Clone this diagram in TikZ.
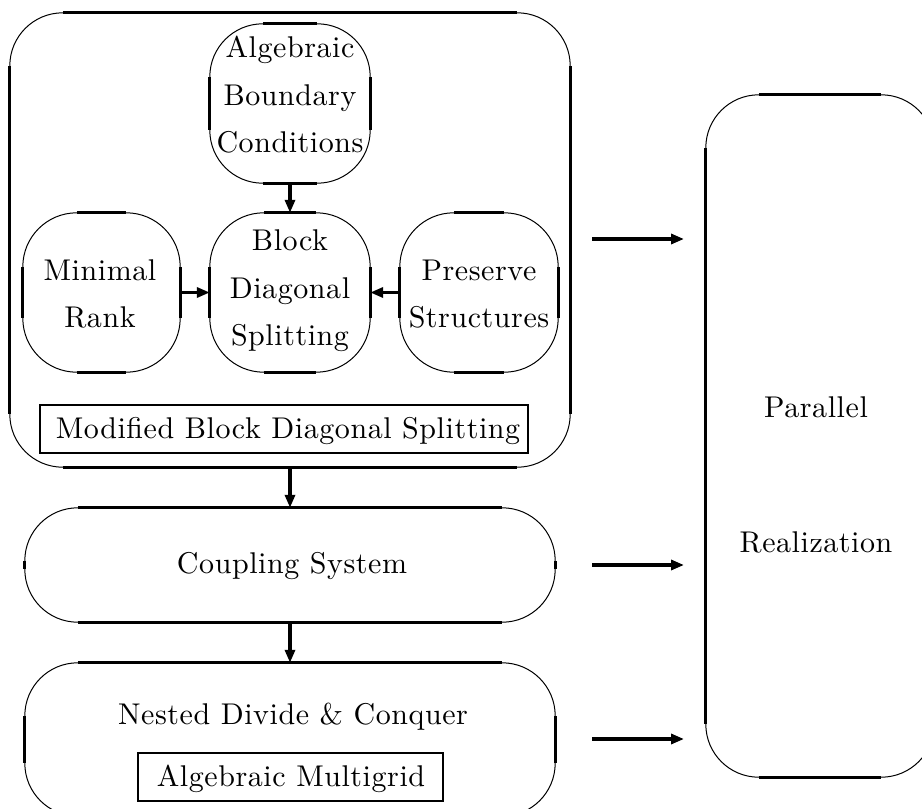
\documentclass[tikz,border=0pt]{standalone}
\usepackage{fontspec}
\setmainfont{lmroman10-regular.otf}[LetterSpace=1.9]
\usetikzlibrary{arrows.meta}

\tikzset{
  arcline/.style={line width=1pt},
  edgeline/.style={line width=2.9pt},
  frame/.style={rectangle, inner sep=0pt, draw=none},
  plainbox/.style={rectangle, inner sep=0pt, draw, line width=2.7pt},
  label text/.style={align=center, inner sep=0pt, font=\fontsize{30}{47.5}\selectfont},
  flow/.style={line width=3.2pt, -{Triangle[length=13pt,width=10pt]}},
}

% rounded frame: thin corner arcs, heavy straight sides
\newcommand\roundframe[2]{%
  \draw[arcline, rounded corners=#2] (#1.north west) rectangle (#1.south east);
  \draw[edgeline]
    ([xshift=#2]#1.north west) -- ([xshift=-#2]#1.north east)
    ([xshift=#2]#1.south west) -- ([xshift=-#2]#1.south east)
    ([yshift=-#2]#1.north west) -- ([yshift=#2]#1.south west)
    ([yshift=-#2]#1.north east) -- ([yshift=#2]#1.south east);}

\begin{document}
\begin{tikzpicture}[x=1pt, y=-1pt]
  \clip (0,0) rectangle (922,809);

  % frames
  \node[frame, minimum width=560pt, minimum height=454pt] (outer) at (290,240) {};
  \node[frame, minimum width=160pt, minimum height=159pt] (abc) at (290,103.5) {};
  \node[frame, minimum width=160pt, minimum height=159pt] (bds) at (290,292.5) {};
  \node[frame, minimum width=157pt, minimum height=159pt] (minr) at (101.5,292.5) {};
  \node[frame, minimum width=158pt, minimum height=159pt] (pres) at (479,292.5) {};
  \node[frame, minimum width=530pt, minimum height=114pt] (coup) at (290,565) {};
  \node[frame, minimum width=530pt, minimum height=153pt] (ndc) at (290,739.5) {};
  \node[frame, minimum width=228pt, minimum height=682pt] (par) at (820,436) {};

  \roundframe{outer}{53pt}
  \roundframe{abc}{53pt}
  \roundframe{bds}{54pt}
  \roundframe{minr}{54pt}
  \roundframe{pres}{54pt}
  \roundframe{coup}{53pt}
  \roundframe{ndc}{53pt}
  \roundframe{par}{53pt}

  % framed labels
  \node[plainbox, minimum width=488pt, minimum height=48pt] (mbds) at (284,429) {};
  \node[plainbox, minimum width=305pt, minimum height=48pt] (amg) at (290.5,777) {};

  % texts
  \node[label text] (t-abc) at (290,95) {Algebraic\\Boundary\\Conditions};
  \node[label text] (t-bds) at (290,291) {Block\\Diagonal\\Splitting};
  \node[label text] (t-minr) at (100,294) {Minimal\\Rank};
  \node[label text] (t-pres) at (479,294) {Preserve\\Structures};
  \node[label text, anchor=base] (t-mbds) at (288,438) {Modified Block Diagonal Splitting};
  \node[label text, anchor=base] (t-coup) at (292,573) {Coupling System};
  \node[label text, anchor=base] (t-ndc) at (293,724) {Nested Divide \& Conquer};
  \node[label text, anchor=base] (t-amg) at (291,786) {Algebraic Multigrid};
  \node[label text, anchor=base] (t-par1) at (816,417) {Parallel};
  \node[label text, anchor=base] (t-par2) at (816,552) {Realization};

  % connectors
  \draw[flow] (abc.south) -- (bds.north);
  \draw[flow] (minr.east) -- (bds.west);
  \draw[flow] (pres.west) -- (bds.east);
  \draw[flow] (outer.south) -- (coup.north);
  \draw[flow] (coup.south) -- (ndc.north);

  \coordinate (r1a) at (592,239);
  \coordinate (r1b) at (684,239);
  \coordinate (r2a) at (592,565);
  \coordinate (r2b) at (684,565);
  \coordinate (r3a) at (592,739);
  \coordinate (r3b) at (684,739);
  \draw[flow] (r1a) -- (r1b);
  \draw[flow] (r2a) -- (r2b);
  \draw[flow] (r3a) -- (r3b);
\end{tikzpicture}
\end{document}
